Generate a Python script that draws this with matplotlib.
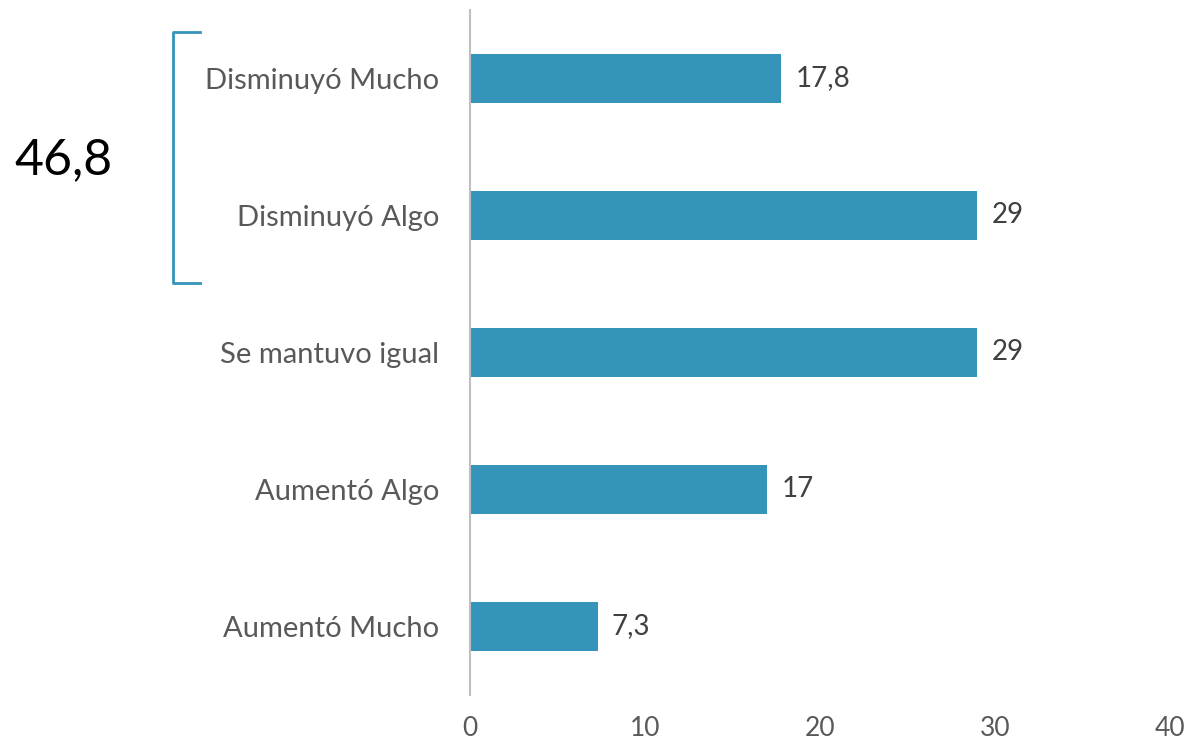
import matplotlib.pyplot as plt
from matplotlib.lines import Line2D

categorias = ['Disminuyó Mucho', 'Disminuyó Algo', 'Se mantuvo igual', 'Aumentó Algo', 'Aumentó Mucho']
valores = [17.8, 29, 29, 17, 7.3]
etiquetas = ['17,8', '29', '29', '17', '7,3']
total = '46,8'

plt.rcParams['font.family'] = ['Lato', 'DejaVu Sans']
color = '#3494BA'

fig = plt.figure(figsize=(11.96, 7.44), dpi=100)
ax = fig.add_axes([0.393, 0.066, 0.585, 0.921])

pos = list(range(len(categorias)))
ax.barh(pos, valores, height=0.36, color=color)
for p, v, t in zip(pos, valores, etiquetas):
    ax.text(v + 0.8, p, t, va='center', ha='left', fontsize=20, color='#404040')

ax.set_xlim(0, 40)
ax.set_ylim(4.5, -0.5)
ax.set_yticks(pos)
ax.set_yticklabels(categorias, fontsize=21, color='#595959')
ax.set_xticks([0, 10, 20, 30, 40])
ax.tick_params(axis='x', labelsize=19, colors='#595959', length=0, pad=15)
ax.tick_params(axis='y', length=0, pad=22)
for s in ['top', 'right', 'bottom']:
    ax.spines[s].set_visible(False)
ax.spines['left'].set_color('#BFBFBF')
ax.spines['left'].set_linewidth(1.5)

# llave
def fx(px):
    return px / 1196
def fy(py):
    return 1 - py / 744
fig.add_artist(Line2D([fx(200), fx(173), fx(173), fx(200)],
                      [fy(32), fy(32), fy(283), fy(283)],
                      color=color, lw=2))
fig.text(fx(63), fy(160), total, fontsize=36, color='black', ha='center', va='center')

fig.savefig('out.png', dpi=100)
